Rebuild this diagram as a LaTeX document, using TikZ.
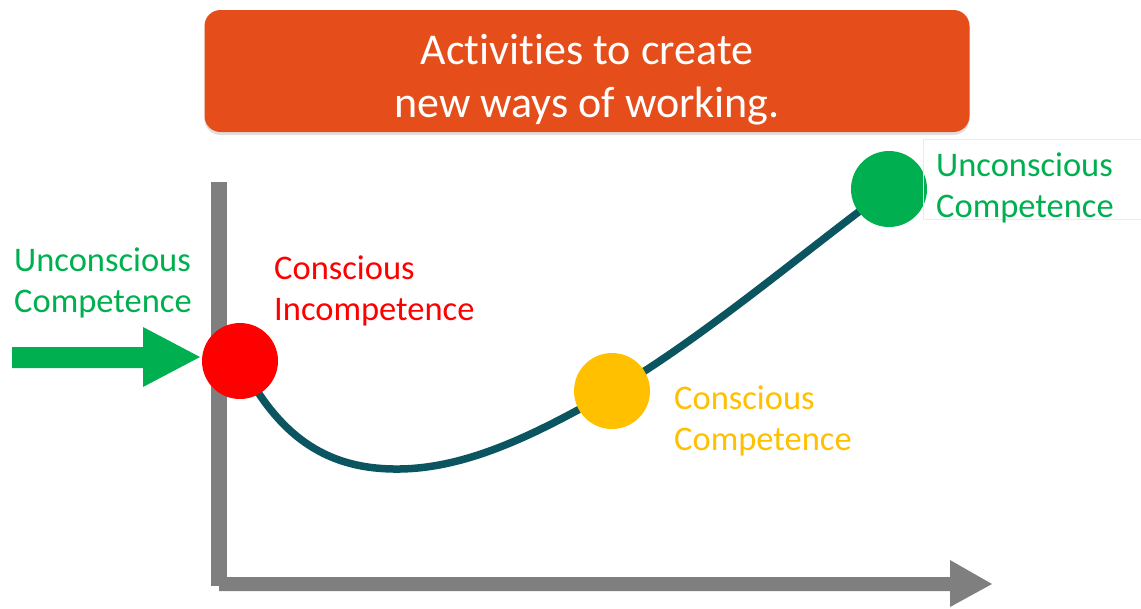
\documentclass[tikz,border=0pt]{standalone}
\usepackage{fontspec}
\setmainfont{Carlito}[Ligatures=NoCommon]
\usetikzlibrary{shadows}
\definecolor{titleorange}{HTML}{E54E1B}
\definecolor{lvlred}{HTML}{FF0000}
\definecolor{lvlyellow}{HTML}{FFC000}
\definecolor{lvlgreen}{HTML}{00B050}
\definecolor{pathteal}{HTML}{0B5560}
\definecolor{axisgray}{HTML}{7F7F7F}
\tikzset{
  stage/.style={circle, minimum size=76pt, inner sep=0pt},
  lbl/.style={font=\fontsize{34.5}{41}\selectfont, align=left, anchor=west, inner sep=0pt},
}
\begin{document}
\begin{tikzpicture}[x=1pt,y=-1pt]
\useasboundingbox (0,0) rectangle (1141,608);

% title banner
\node[fill=titleorange, rounded corners=16pt, minimum width=765pt, minimum height=122pt,
      drop shadow={opacity=0.25, shadow xshift=0pt, shadow yshift=-3pt}]
  (banner) at (587,71) {};
\node[text=white, font=\fontsize{44}{53}\selectfont, align=center, inner sep=0pt]
  (title) at (587,80) {Activities to create\\new ways of working.};

% axes
\fill[axisgray] (211,182) rectangle (227,586);
\fill[axisgray] (219,577) -- (950,577) -- (950,560) -- (992,584) -- (950,607) -- (950,591) -- (219,591) -- cycle;

% entry arrow
\fill[lvlgreen] (12,347) -- (143,347) -- (143,327) -- (200,357) -- (143,387) -- (143,368) -- (12,368) -- cycle;

% stage markers
\coordinate (pred) at (240,361);
\coordinate (pyel) at (612,391);
\coordinate (pgrn) at (889,189);

% learning curve
\draw[pathteal, line width=7.5pt, line cap=round]
  (pred) .. controls (280,440) and (330,470) .. (400,469)
         .. controls (470,468) and (540,432) .. (pyel)
         .. controls (700,340) and (800,255) .. (pgrn);

\node[stage, fill=lvlred] (red) at (pred) {};
\node[stage, fill=lvlyellow] (yel) at (pyel) {};
\node[stage, fill=lvlgreen] (grn) at (pgrn) {};

% labels
\node[lbl, text=lvlgreen] (lin) at (14,283) {Unconscious\\Competence};
\node[lbl, text=lvlred] (lci) at (274,291) {Conscious\\Incompetence};
\node[lbl, text=lvlyellow] (lcc) at (674,421) {Conscious\\Competence};
\draw[black!8] (923,139) rectangle (1141,219);
\node[lbl, text=lvlgreen] (luc) at (936,188) {Unconscious\\Competence};
\end{tikzpicture}
\end{document}
